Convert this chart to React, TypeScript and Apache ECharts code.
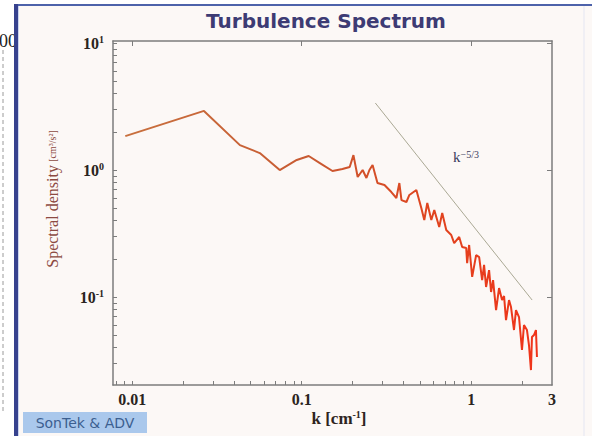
import React, { useEffect, useRef } from 'react';
import * as echarts from 'echarts';

// Wavenumber k [1/cm] and spectral density
const kValues = [0.0091, 0.0265, 0.0432, 0.0566, 0.0742, 0.0935, 0.110, 0.128, 0.152, 0.174, 0.192, 0.202, 0.214, 0.229, 0.241, 0.251, 0.262, 0.280, 0.308, 0.338, 0.362, 0.377, 0.388, 0.415, 0.432, 0.475, 0.508, 0.529, 0.551, 0.582, 0.606, 0.648, 0.675, 0.713, 0.763, 0.794, 0.850, 0.885, 0.935, 0.947, 0.973, 1.014, 1.07, 1.115, 1.161, 1.192, 1.225, 1.276, 1.311, 1.347, 1.403, 1.461, 1.522, 1.564, 1.606, 1.673, 1.719, 1.790, 1.839, 1.916, 1.995, 2.05, 2.135, 2.194, 2.254, 2.285, 2.348, 2.412, 2.445];
const densityValues = [1.85, 2.92, 1.57, 1.36, 1.0, 1.20, 1.29, 1.135, 0.982, 1.018, 1.056, 1.31, 0.881, 1.0, 0.865, 1.0, 1.095, 0.790, 0.762, 0.671, 0.602, 0.790, 0.580, 0.560, 0.636, 0.696, 0.502, 0.404, 0.550, 0.404, 0.484, 0.356, 0.459, 0.337, 0.308, 0.266, 0.297, 0.2475, 0.243, 0.185, 0.257, 0.144, 0.214, 0.2065, 0.136, 0.179, 0.120, 0.163, 0.1095, 0.136, 0.079, 0.1177, 0.0947, 0.1018, 0.0659, 0.0947, 0.0834, 0.055, 0.079, 0.0696, 0.0383, 0.0602, 0.055, 0.0419, 0.0266, 0.0484, 0.0502, 0.055, 0.0337];

// k^-5/3 reference line
const refK = [0.272, 2.29];
const refDensity = [3.37, 0.0947];

// axis ranges and ticks
const xRange = [0.0077, 3];
const yRange = [0.0203, 10.37];
const xTickLabels = [0.01, 0.1, 1, 3];
const yTickLabels = [0.1, 1, 10];
const xMajorTicks = [0.01, 0.1, 1];
const yMajorTicks = [0.1, 1, 10];
const xMinorTicks = [0.008, 0.009, 0.02, 0.03, 0.04, 0.05, 0.06, 0.07, 0.08, 0.09, 0.2, 0.3, 0.4, 0.5, 0.6, 0.7, 0.8, 0.9, 2];
const yMinorTicks = [0.03, 0.04, 0.05, 0.06, 0.07, 0.08, 0.09, 0.2, 0.3, 0.4, 0.5, 0.6, 0.7, 0.8, 0.9, 2, 3, 4, 5, 6, 7, 8, 9];

const serif = '"Liberation Serif", "Times New Roman", serif';

export default function App() {
  const ref = useRef<HTMLDivElement>(null);
  useEffect(() => {
    document.body.style.margin = '0';
    const chart = echarts.init(ref.current!, undefined, { renderer: 'svg' });
    const axisLineStyle = { color: '#7c7c7c', width: 1.5 };
    const option: any = {
      animation: false,
      backgroundColor: '#fcf8f6',
      grid: { left: 113, right: 40, top: 41, bottom: 51, outerBoundsMode: 'none' },
      xAxis: [
        {
          type: 'log', logBase: 10, min: xRange[0], max: xRange[1], position: 'bottom',
          axisLine: { show: true, lineStyle: axisLineStyle },
          axisTick: { show: true, inside: true, length: 4, customValues: xMajorTicks.concat(xMinorTicks), lineStyle: { color: '#7c7c7c' } },
          splitLine: { show: false },
          minorTick: { show: false },
          axisLabel: {
            customValues: xTickLabels, margin: 6,
            formatter: (v: number) => String(Number(v.toPrecision(3))),
            fontFamily: serif, fontSize: 16, fontWeight: 'bold', color: '#2a2420',
          },
        },
        {
          type: 'log', logBase: 10, min: xRange[0], max: xRange[1], position: 'top',
          axisLine: { show: true, lineStyle: axisLineStyle },
          axisTick: { show: true, inside: true, length: 5, customValues: xMajorTicks, lineStyle: { color: '#7c7c7c' } },
          splitLine: { show: false },
          axisLabel: { show: false },
        },
      ],
      yAxis: [
        {
          type: 'log', logBase: 10, min: yRange[0], max: yRange[1], position: 'left',
          axisLine: { show: true, lineStyle: axisLineStyle },
          axisTick: { show: true, inside: true, length: 4, customValues: yMajorTicks.concat(yMinorTicks), lineStyle: { color: '#7c7c7c' } },
          splitLine: { show: false },
          axisLabel: {
            customValues: yTickLabels, margin: 9,
            formatter: (v: number) => {
              const e = Math.round(Math.log10(v));
              return `{b|10}{s|${e < 0 ? '-' + -e : e}}`;
            },
            rich: {
              b: { fontFamily: serif, fontSize: 16, fontWeight: 'bold', color: '#2a2420', lineHeight: 18 },
              s: { fontFamily: serif, fontSize: 10, fontWeight: 'bold', color: '#2a2420', verticalAlign: 'top', lineHeight: 10 },
            },
          },
        },
        {
          type: 'log', logBase: 10, min: yRange[0], max: yRange[1], position: 'right',
          axisLine: { show: true, lineStyle: axisLineStyle },
          axisTick: { show: true, inside: true, length: 5, customValues: yMajorTicks, lineStyle: { color: '#7c7c7c' } },
          splitLine: { show: false },
          axisLabel: { show: false },
        },
      ],
      series: [
        {
          type: 'line',
          data: refK.map((k, i) => [k, refDensity[i]]),
          showSymbol: false,
          lineStyle: { color: '#aaa894', width: 1 },
          z: 2,
        },
        {
          type: 'line',
          data: kValues.map((k, i) => [k, densityValues[i]]),
          showSymbol: false,
          lineStyle: {
            width: 2,
            color: new echarts.graphic.LinearGradient(0, 0, 1, 0, [
              { offset: 0, color: '#c8703e' },
              { offset: 0.45, color: '#c85a32' },
              { offset: 0.75, color: '#e0441f' },
              { offset: 1, color: '#f0341a' },
            ]),
          },
          z: 3,
        },
      ],
      graphic: [
        { type: 'rect', shape: { x: 0, y: 0, width: 14, height: 436 }, style: { fill: '#ffffff' }, z: 50 },
        { type: 'rect', shape: { x: 0, y: 0, width: 592, height: 4 }, style: { fill: '#ffffff' }, z: 50 },
        { type: 'line', shape: { x1: 3, y1: 50, x2: 3, y2: 412 }, style: { stroke: '#9a9a9a', lineWidth: 1, lineDash: [4, 3] }, z: 51 },
        { type: 'text', x: 17, y: 41, style: { text: '00', fill: '#222', font: '18px ' + serif, align: 'right', verticalAlign: 'middle' }, z: 51 },
        { type: 'rect', shape: { x: 14, y: 4, width: 578, height: 2 }, style: { fill: '#4d62aa' }, z: 52 },
        { type: 'rect', shape: { x: 14, y: 4, width: 4, height: 432 }, style: { fill: '#37428e' }, z: 52 },
        { type: 'rect', shape: { x: 18, y: 6, width: 1, height: 430 }, style: { fill: '#c9d3ef' }, z: 52 },
        { type: 'line', shape: { x1: 584, y1: 6, x2: 584, y2: 436 }, style: { stroke: '#e4e6f2', lineWidth: 1 }, z: 52 },
        {
          type: 'text', x: 326, y: 21,
          style: { text: 'Turbulence Spectrum', fill: '#3d3b74', font: 'bold 20px "DejaVu Sans", sans-serif', align: 'center', verticalAlign: 'middle' },
          z: 60,
        },
        {
          type: 'text', x: 52, y: 199, rotation: Math.PI / 2,
          style: {
            text: '{a|Spectral density} {b|[cm³/s²]}',
            rich: {
              a: { fontFamily: serif, fontSize: 16, fill: '#8c4a42' },
              b: { fontFamily: serif, fontSize: 10, fill: '#8c4a42' },
            },
            align: 'center', verticalAlign: 'middle',
          },
          z: 60,
        },
        {
          type: 'text', x: 339, y: 418,
          style: {
            text: '{a|k [cm}{s|-1}{a|]}',
            rich: {
              a: { fontFamily: serif, fontSize: 17, fontWeight: 'bold', fill: '#2e2420', lineHeight: 18 },
              s: { fontFamily: serif, fontSize: 10, fontWeight: 'bold', fill: '#2e2420', verticalAlign: 'top', lineHeight: 10 },
            },
            align: 'center', verticalAlign: 'middle',
          },
          z: 60,
        },
        {
          type: 'text', x: 453, y: 157,
          style: {
            text: '{a|k}{s|−5/3}',
            rich: {
              a: { fontFamily: serif, fontSize: 15, fill: '#3a3a5c', lineHeight: 16 },
              s: { fontFamily: serif, fontSize: 10, fill: '#3a3a5c', verticalAlign: 'top', lineHeight: 10 },
            },
            align: 'left', verticalAlign: 'middle',
          },
          z: 60,
        },
        { type: 'rect', shape: { x: 23, y: 412, width: 124, height: 21 }, style: { fill: '#aac8ec' }, z: 60 },
        {
          type: 'text', x: 85, y: 423,
          style: { text: 'SonTek & ADV', fill: '#3c5f90', font: '14px "DejaVu Sans", sans-serif', align: 'center', verticalAlign: 'middle' },
          z: 61,
        },
      ],
    };
    chart.setOption(option);
    return () => chart.dispose();
  }, []);
  return <div ref={ref} style={{ position: 'fixed', left: 0, top: 0, width: 592, height: 436 }} />;
}
